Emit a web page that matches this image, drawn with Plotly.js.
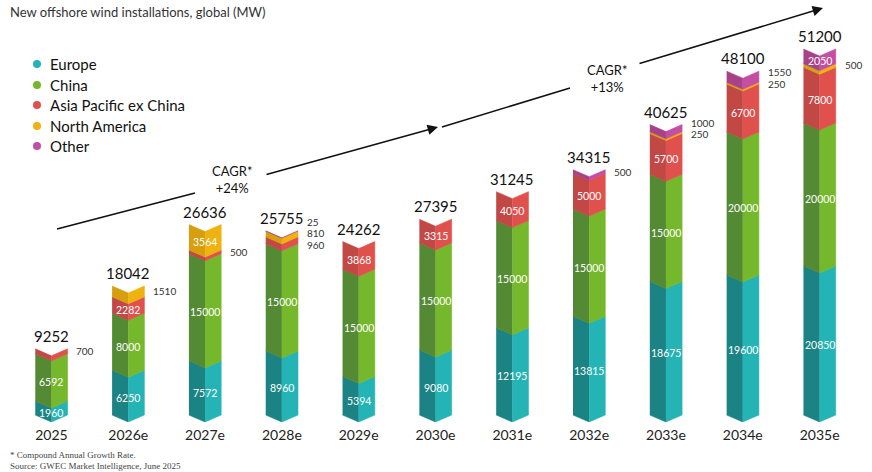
<!DOCTYPE html>
<html>
<head>
<meta charset="utf-8">
<script src="https://cdn.plot.ly/plotly-3.0.1.min.js"></script>
<style>
  html, body { margin: 0; padding: 0; background: #ffffff; }
  #chart { width: 872px; height: 472px; }
</style>
</head>
<body>
<div id="chart"></div>
<script>
// New offshore wind installations by region (MW)
const years = ['2025', '2026e', '2027e', '2028e', '2029e', '2030e', '2031e', '2032e', '2033e', '2034e', '2035e'];
const europe       = [1960, 6250, 7572, 8960, 5394, 9080, 12195, 13815, 18675, 19600, 20850];
const china        = [6592, 8000, 15000, 15000, 15000, 15000, 15000, 15000, 15000, 20000, 20000];
const asiaPacific  = [700, 2282, 500, 960, 3868, 3315, 4050, 5000, 5700, 6700, 7800];
const northAmerica = [0, 1510, 3564, 810, 0, 0, 0, 0, 250, 250, 500];
const other        = [0, 0, 0, 25, 0, 0, 0, 500, 1000, 1550, 2050];
const totals       = [9252, 18042, 26636, 25755, 24262, 27395, 31245, 34315, 40625, 48100, 51200];

const regionNames = ['Europe', 'China', 'Asia Pacific ex China', 'North America', 'Other'];

// Stack order, bottom to top, with the face colours of each column half
const series = [
  { name: regionNames[0], values: europe,       light: '#25b4b5', dark: '#1b8383' },
  { name: regionNames[1], values: china,        light: '#76b82c', dark: '#538a33' },
  { name: regionNames[2], values: asiaPacific,  light: '#e0514e', dark: '#c24845' },
  { name: regionNames[3], values: northAmerica, light: '#efb20f', dark: '#d79f0d' },
  { name: regionNames[4], values: other,        light: '#c44ea1', dark: '#a74289' }
];

// Page geometry (pixels)
const W = 872, H = 472;
const M = { l: 13, r: 14, t: 0, b: 50 };
const plotW = W - M.l - M.r, plotH = H - M.t - M.b;
const px = x => (x - M.l) / plotW;             // pixel x -> paper x
const py = y => (H - M.b - y) / plotH;         // pixel y -> paper y

const halfW = 0.21;      // half column width, category units
const notch = 980;       // depth of the chevron folds, MW units
const yRange = [-980, 58060];
const insideMin = 1800;  // smaller segments are labelled beside the column

const FONT = 'Lato, "Open Sans", sans-serif';

const traces = [];
const annotations = [];
const shapes = [];

// Chevron-shaped stacked columns: a darker left face and a lighter right face
const base = years.map(() => 0);
const segs = years.map(() => []);
series.forEach(s => {
  const lx = [], ly = [], rx = [], ry = [];
  s.values.forEach((v, i) => {
    if (v > 0) {
      const y0 = base[i], y1 = base[i] + v;
      lx.push(i - halfW, i, i, i - halfW, null);
      ly.push(y0, y0 - notch, y1 - notch, y1, null);
      rx.push(i, i + halfW, i + halfW, i, null);
      ry.push(y0 - notch, y0, y1, y1 - notch, null);
      segs[i].push({ v, y0, y1 });
      base[i] = y1;
    }
  });
  [[lx, ly, s.dark], [rx, ry, s.light]].forEach(([x, y, c]) => {
    traces.push({
      type: 'scatter', mode: 'lines', x, y,
      fill: 'toself', fillcolor: c,
      line: { color: c, width: 0.6 },
      hoverinfo: 'skip', showlegend: false, name: s.name
    });
  });
});

// Segment values: white inside large segments, dark beside small ones
segs.forEach((list, i) => {
  const outside = [];
  list.forEach(sg => {
    const mid = (sg.y0 + sg.y1) / 2;
    if (sg.v >= insideMin) {
      annotations.push({
        xref: 'x', yref: 'y', x: i, y: mid, yshift: -5,
        text: String(sg.v), showarrow: false,
        font: { family: FONT, size: 10.5, color: '#ffffff' }
      });
    } else {
      outside.push({ v: sg.v, mid });
    }
  });
  outside.reverse(); // top-down
  if (outside.length) {
    const avg = outside.reduce((a, o) => a + o.mid, 0) / outside.length;
    const n = outside.length;
    outside.forEach((o, k) => {
      annotations.push({
        xref: 'x', yref: 'y', x: i, y: n === 1 ? o.mid : avg,
        xshift: 23, yshift: ((n - 1) / 2 - k) * 11.5 + (n > 1 ? 2 : 0),
        xanchor: 'left', text: String(o.v), showarrow: false,
        font: { family: FONT, size: 10, color: '#333333' }
      });
    });
  }
});

// Column totals
totals.forEach((t, i) => {
  annotations.push({
    xref: 'x', yref: 'y', x: i, y: t, yanchor: 'bottom', yshift: 2,
    text: String(t), showarrow: false,
    font: { family: FONT, size: 15, color: '#111111' }
  });
});

// Title and footnotes
annotations.push({
  xref: 'paper', yref: 'paper', x: px(8), y: py(12), xanchor: 'left', yanchor: 'middle',
  text: 'New offshore wind installations, global (MW)', showarrow: false,
  font: { family: FONT, size: 13, color: '#333333' }
});
annotations.push({
  xref: 'paper', yref: 'paper', x: px(8), y: py(455), xanchor: 'left', yanchor: 'middle',
  text: '* Compound Annual Growth Rate.', showarrow: false,
  font: { family: '"Liberation Serif", "DejaVu Serif", serif', size: 9, color: '#444444' }
});
annotations.push({
  xref: 'paper', yref: 'paper', x: px(8), y: py(466), xanchor: 'left', yanchor: 'middle',
  text: 'Source: GWEC Market Intelligence, June 2025', showarrow: false,
  font: { family: '"Liberation Serif", "DejaVu Serif", serif', size: 9, color: '#444444' }
});

// Legend: coloured dots with region names
const legendY = [64, 85, 105, 126, 146];
series.forEach((s, k) => {
  shapes.push({
    type: 'circle', xref: 'paper', yref: 'paper',
    xsizemode: 'pixel', ysizemode: 'pixel',
    xanchor: px(37), yanchor: py(legendY[k]),
    x0: -4, x1: 4, y0: -4, y1: 4,
    fillcolor: s.light, line: { width: 0 }
  });
  annotations.push({
    xref: 'paper', yref: 'paper', x: px(48), y: py(legendY[k]),
    xanchor: 'left', yanchor: 'middle', text: s.name, showarrow: false,
    font: { family: FONT, size: 15, color: '#111111' }
  });
});

// Growth arrows with CAGR labels
function growthArrow(a, b, c, tip, label, at) {
  shapes.push({
    type: 'line', xref: 'paper', yref: 'paper',
    x0: px(a[0]), y0: py(a[1]), x1: px(b[0]), y1: py(b[1]),
    line: { color: '#111111', width: 1.6 }
  });
  annotations.push({
    xref: 'paper', yref: 'paper', x: px(tip[0]), y: py(tip[1]),
    ax: c[0] - tip[0], ay: c[1] - tip[1], axref: 'pixel', ayref: 'pixel',
    text: '', showarrow: true, arrowhead: 2, arrowsize: 1.3, arrowwidth: 1.6,
    arrowcolor: '#111111', standoff: 0, startstandoff: 0
  });
  annotations.push({
    xref: 'paper', yref: 'paper', x: px(at[0]), y: py(at[1]),
    xanchor: 'center', yanchor: 'middle', text: label, showarrow: false,
    font: { family: FONT, size: 13, color: '#111111' }
  });
}
growthArrow([57, 229], [195, 193], [265, 175], [438, 127], 'CAGR*<br>+24%', [232, 179]);
growthArrow([442, 127], [570, 88], [638, 64], [823, 8], 'CAGR*<br>+13%', [607, 78]);

const layout = {
  width: W, height: H,
  margin: M,
  paper_bgcolor: '#ffffff', plot_bgcolor: '#ffffff',
  showlegend: false,
  xaxis: {
    range: [-0.5, years.length - 0.5],
    tickmode: 'array', tickvals: years.map((_, i) => i), ticktext: years,
    showgrid: false, zeroline: false, showline: false, ticks: '',
    ticklabelstandoff: 3,
    tickfont: { family: FONT, size: 14, color: '#222222' },
    fixedrange: true
  },
  yaxis: {
    range: yRange, visible: false, showgrid: false, zeroline: false, fixedrange: true
  },
  annotations, shapes
};

Plotly.newPlot('chart', traces, layout, { displayModeBar: false, staticPlot: true });
</script>
</body>
</html>
